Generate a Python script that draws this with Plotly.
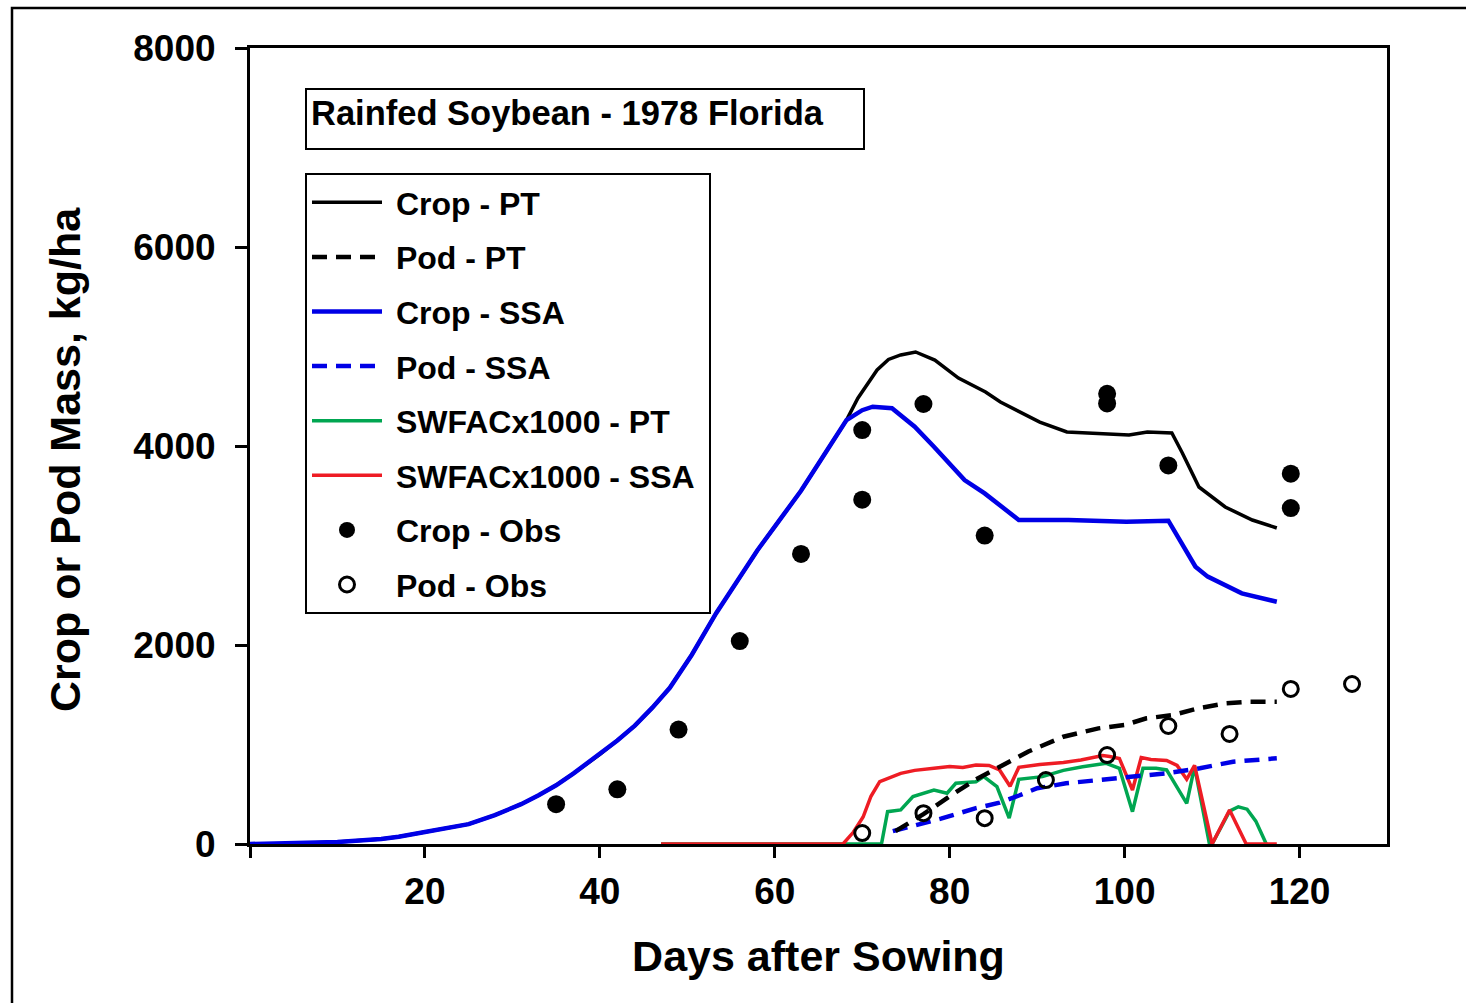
import plotly.graph_objects as go

# ---------------- data ----------------
crop_ssa_days = [0, 5, 10, 15, 17, 20, 25, 28, 31, 33, 35, 37, 40, 42, 44, 46, 48, 50.5, 53.3, 56,
                 58, 60.5, 63, 66, 68.2, 70, 71.2, 73.4, 76, 78.2, 81.7, 84, 87.9, 93.6, 100.2, 105,
                 106.8, 108.1, 109.5, 113.4, 117.4]
crop_ssa = [0, 5, 20, 50, 73, 120, 200, 290, 400, 490, 590, 710, 900, 1040, 1190, 1370, 1570, 1900,
            2320, 2680, 2950, 3250, 3550, 3960, 4260, 4360, 4395, 4379, 4194, 3993, 3658, 3524,
            3256, 3256, 3239, 3249, 2988, 2787, 2687, 2519, 2435]

crop_pt_days = [0, 5, 10, 15, 17, 20, 25, 28, 31, 33, 35, 37, 40, 42, 44, 46, 48, 50.5, 53.3, 56,
                58, 60.5, 63, 66, 68.2, 69.5, 71.7, 73, 74.4, 76.1, 78.3, 81, 84.1, 85.8, 88.1,
                90.3, 93.4, 96.5, 100.5, 102.6, 105.4, 106.6, 108.5, 111.5, 114.6, 117.4]
crop_pt = [0, 5, 20, 50, 73, 120, 200, 290, 400, 490, 590, 710, 900, 1040, 1190, 1370, 1570, 1900,
           2320, 2680, 2950, 3250, 3550, 3960, 4260, 4480, 4764, 4870, 4915, 4945, 4864, 4683,
           4543, 4442, 4342, 4241, 4141, 4131, 4110, 4141, 4131, 3930, 3588, 3387, 3256, 3176]

pod_pt_days = [73.8, 77, 80, 83, 86, 89, 93, 97, 100, 102.5, 105.5, 108.6, 111.6, 114.3, 117.4]
pod_pt = [130, 300, 480, 650, 790, 930, 1078, 1162, 1196, 1263, 1296, 1367, 1414, 1430, 1430]

pod_ssa_days = [73.5, 76, 79, 83, 85.7, 88, 90, 93.3, 97.1, 100.9, 104.8, 108.6, 112.4, 117.4]
pod_ssa = [130, 185, 255, 360, 415, 490, 560, 610, 643, 677, 711, 761, 827, 861]

swfac_ssa_days = [47, 67.8, 69, 70.1, 71, 72, 74.4, 76, 78.2, 80, 81.5, 83, 84.5, 85.7, 86.9, 87.9,
                  90.3, 93, 95, 97.5, 98.3, 99.4, 100.9, 101.9, 103, 104.8, 106, 107.1, 108, 110,
                  112, 113.9, 117.4]
swfac_ssa = [0, 0, 120, 271, 480, 626, 710, 740, 761, 780, 770, 794, 790, 744, 580, 770, 800, 820,
             844, 890, 880, 860, 543, 870, 850, 840, 790, 650, 790, 0, 342, 0, 0]

swfac_pt_days = [47, 72.2, 72.9, 74.4, 75.8, 78.2, 79.7, 80.7, 83, 83.9, 85.4, 86.8, 87.9, 90.6, 93,
                 95.2, 97.9, 99.4, 100.9, 102.1, 103.6, 104.8, 107.1, 108, 109.7, 110, 112, 113,
                 114, 115, 116.2]
swfac_pt = [0, 0, 325, 342, 476, 543, 510, 610, 626, 677, 576, 260, 650, 677, 740, 777, 811, 761,
            325, 761, 761, 744, 409, 777, 0, 0, 330, 374, 350, 230, 0]

crop_obs_days = [35, 42, 49, 56, 63, 70, 70, 77, 84, 98, 98, 105, 119, 119]
crop_obs = [400, 550, 1150, 2040, 2915, 4160, 3460, 4422, 3100, 4525, 4428, 3805, 3722, 3376]

pod_obs_days = [70, 77, 84, 91, 98, 105, 112, 119, 126]
pod_obs = [110, 310, 260, 643, 894, 1186, 1106, 1558, 1608]

x_ticks = [0, 20, 40, 60, 80, 100, 120]
x_ticktext = ["", "20", "40", "60", "80", "100", "120"]
y_ticks = [0, 2000, 4000, 6000, 8000]

FONT = "Liberation Sans, Arial, sans-serif"
BLACK = "#000000"
BLUE = "#0000E6"
GREEN = "#00A651"
RED = "#EE1C24"
NB = "\u00a0"

fig = go.Figure()

def add_line(x, y, name, color, width, dash, rank, label):
    fig.add_trace(go.Scatter(x=x, y=y, mode="lines", name=label, legendgroup=name,
                             legendrank=rank,
                             line=dict(color=color, width=width, dash=dash)))

add_line(swfac_pt_days, swfac_pt, "SWFACx1000 - PT", GREEN, 3.5, "solid", 5,
         NB + "SWFACx1000 - PT")
add_line(swfac_ssa_days, swfac_ssa, "SWFACx1000 - SSA", RED, 3.5, "solid", 6,
         NB + "SWFACx1000 - SSA" + NB)
add_line(pod_ssa_days, pod_ssa, "Pod - SSA", BLUE, 4.5, "15px,9px", 4, NB + "Pod - SSA")
add_line(pod_pt_days, pod_pt, "Pod - PT", BLACK, 4.5, "15px,9px", 2, NB + "Pod - PT")
add_line(crop_pt_days, crop_pt, "Crop - PT", BLACK, 3.5, "solid", 1, NB + "Crop - PT")
add_line(crop_ssa_days, crop_ssa, "Crop - SSA", BLUE, 4.5, "solid", 3, NB + "Crop - SSA")

fig.add_trace(go.Scatter(x=crop_obs_days, y=crop_obs, mode="markers", name=NB + "Crop - Obs",
                         legendgroup="Crop - Obs", legendrank=7,
                         marker=dict(symbol="circle", size=18, color=BLACK)))
fig.add_trace(go.Scatter(x=pod_obs_days, y=pod_obs, mode="markers", name=NB + "Pod - Obs",
                         legendgroup="Pod - Obs", legendrank=8,
                         marker=dict(symbol="circle-open", size=15, color=BLACK,
                                     line=dict(width=3, color=BLACK))))

W, H = 1466, 1003
L, R, T, B = 250, 79, 48, 159
pw, ph = W - L - R, H - T - B

def px(xp):
    return (xp - L) / pw

def py(yp):
    return (H - B - yp) / ph

fig.update_layout(
    width=W, height=H,
    margin=dict(l=L, r=R, t=T, b=B),
    paper_bgcolor="white", plot_bgcolor="white",
    font=dict(family=FONT, color="black"),
    showlegend=True,
    legend=dict(x=px(305), y=py(173), xanchor="left", yanchor="top",
                bgcolor="white", bordercolor="black", borderwidth=2,
                font=dict(family=FONT, size=32, color="black", weight="bold"),
                tracegroupgap=10, itemwidth=70, traceorder="grouped"),
    xaxis=dict(range=[0, 130], tickvals=x_ticks, ticktext=x_ticktext,
               showgrid=False, zeroline=False,
               showline=True, linecolor="black", linewidth=3, mirror=True,
               ticks="outside", ticklen=11, tickwidth=3, tickcolor="black",
               tickfont=dict(family=FONT, size=37, color="black", weight="bold"),
               ticklabelstandoff=2,
               title=dict(text="<b>Days after Sowing</b>", standoff=30,
                          font=dict(family=FONT, size=43, color="black"))),
    yaxis=dict(range=[0, 8000], tickvals=y_ticks,
               showgrid=False, zeroline=False,
               showline=True, linecolor="black", linewidth=3, mirror=True,
               ticks="outside", ticklen=12, tickwidth=3, tickcolor="black",
               tickfont=dict(family=FONT, size=37, color="black", weight="bold"),
               ticklabelstandoff=12),
    annotations=[
        dict(text="<b>Rainfed Soybean - 1978 Florida</b>",
             xref="paper", yref="paper", x=px(305), y=py(88), xanchor="left", yanchor="top",
             showarrow=False, align="left", valign="top", width=548, height=50,
             bordercolor="black", borderwidth=2, borderpad=4, bgcolor="white",
             font=dict(family=FONT, size=34.5, color="black")),
        dict(text="<b>Crop or Pod Mass, kg/ha</b>", textangle=-90,
             xref="paper", yref="paper", x=px(65), y=py(460), xanchor="center",
             yanchor="middle", showarrow=False,
             font=dict(family=FONT, size=43, color="black")),
    ],
    shapes=[dict(type="rect", xref="paper", yref="paper",
                 x0=px(12), x1=px(1475), y0=py(1012), y1=py(8),
                 line=dict(color="black", width=2.5), fillcolor="rgba(0,0,0,0)",
                 layer="below")],
)

fig.write_html("out.html")
